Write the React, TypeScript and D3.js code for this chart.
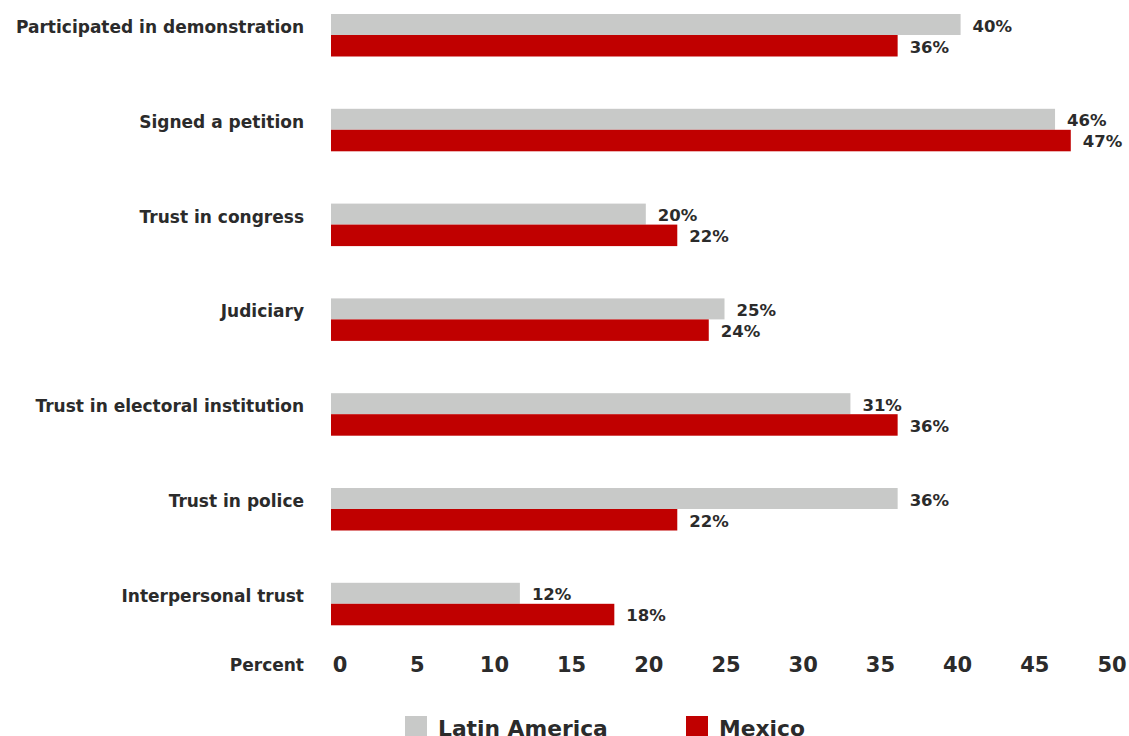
import React from "react";
import * as d3 from "d3";

const categories = [
  "Participated in demonstration",
  "Signed a petition",
  "Trust in congress",
  "Judiciary",
  "Trust in electoral institution",
  "Trust in police",
  "Interpersonal trust",
];
const latinAmerica = [40, 46, 20, 25, 33, 36, 12];
const mexico = [36, 47, 22, 24, 36, 22, 18];
const latinAmericaLabels = ["40%", "46%", "20%", "25%", "31%", "36%", "12%"];
const mexicoLabels = ["36%", "47%", "22%", "24%", "36%", "22%", "18%"];
const ticks = [0, 5, 10, 15, 20, 25, 30, 35, 40, 45, 50];
const seriesNames = ["Latin America", "Mexico"];
const colors = ["#c8c9c8", "#c00000"];

const W = 1129;
const H = 736;
const FONT = "'DejaVu Sans', Inter, sans-serif";
const TEXT = "#2b2b2b";

export default function App() {
  const x = d3.scaleLinear().domain([0, 50]).range([331, 1118]);
  const xTick = d3.scaleLinear().domain([0, 50]).range([340, 1112]);
  const y = d3
    .scaleBand<string>()
    .domain(categories)
    .range([14, 14 + 94.8 * 7])
    .paddingInner(0)
    .paddingOuter(0);
  const barH = 21;

  return (
    <svg
      width={W}
      height={H}
      style={{ position: "absolute", left: 0, top: 0, background: "#fff" }}
      fontFamily={FONT}
    >
      {categories.map((c, i) => {
        const y0 = y(c)!;
        return (
          <g key={c}>
            <text
              x={304}
              y={y0 + 13}
              textAnchor="end"
              dominantBaseline="central"
              fontSize={17}
              fontWeight={700}
              fill={TEXT}
            >
              {c}
            </text>
            <rect x={x(0)} y={y0} width={x(latinAmerica[i]) - x(0)} height={barH} fill={colors[0]} />
            <rect x={x(0)} y={y0 + barH} width={x(mexico[i]) - x(0)} height={barH + 0.5} fill={colors[1]} />
            <text
              x={x(latinAmerica[i]) + 12}
              y={y0 + 12}
              dominantBaseline="central"
              fontSize={16.5}
              fontWeight={700}
              fill={TEXT}
            >
              {latinAmericaLabels[i]}
            </text>
            <text
              x={x(mexico[i]) + 12}
              y={y0 + barH + 12}
              dominantBaseline="central"
              fontSize={16.5}
              fontWeight={700}
              fill={TEXT}
            >
              {mexicoLabels[i]}
            </text>
          </g>
        );
      })}
      <text x={304} y={665} textAnchor="end" dominantBaseline="central" fontSize={17} fontWeight={700} fill={TEXT}>
        Percent
      </text>
      {ticks.map((t) => (
        <text
          key={t}
          x={xTick(t)}
          y={665}
          textAnchor="middle"
          dominantBaseline="central"
          fontSize={21}
          fontWeight={700}
          fill={TEXT}
        >
          {t}
        </text>
      ))}
      {seriesNames.map((s, i) => {
        const lx = [405, 686][i];
        return (
          <g key={s}>
            <rect x={lx} y={716} width={22} height={22} fill={colors[i]} />
            <text x={lx + 33} y={728} dominantBaseline="central" fontSize={21.8} fontWeight={700} fill={TEXT}>
              {s}
            </text>
          </g>
        );
      })}
    </svg>
  );
}
